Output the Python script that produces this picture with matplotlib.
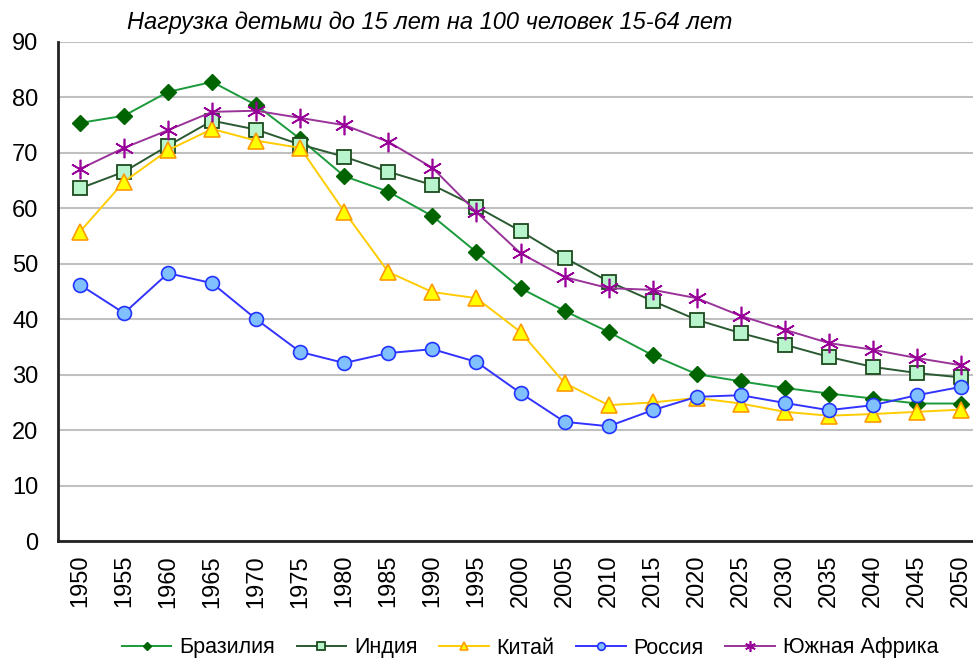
import numpy as np
import matplotlib.pyplot as plt

plt.rcParams['font.family'] = ['Liberation Sans', 'DejaVu Sans']

# --- данные ---
years = [str(y) for y in range(1950, 2051, 5)]

brazil = [75.4, 76.7, 81.0, 82.8, 78.6, 72.5, 65.8, 63.0, 58.6, 52.1, 45.6,
          41.5, 37.7, 33.5, 30.1, 28.8, 27.6, 26.6, 25.7, 24.8, 24.8]
india = [63.6, 66.6, 71.3, 75.8, 74.2, 71.5, 69.3, 66.6, 64.2, 60.3, 55.9,
         51.1, 46.8, 43.3, 39.9, 37.5, 35.4, 33.2, 31.4, 30.3, 29.5]
china = [55.8, 64.8, 70.5, 74.3, 72.2, 70.9, 59.4, 48.5, 44.9, 43.8, 37.7,
         28.5, 24.5, 25.0, 25.8, 24.8, 23.3, 22.6, 22.9, 23.3, 23.7]
russia = [46.2, 41.1, 48.3, 46.5, 40.0, 34.1, 32.1, 33.9, 34.6, 32.3, 26.7,
          21.5, 20.7, 23.6, 26.0, 26.3, 24.9, 23.6, 24.5, 26.3, 27.8]
s_africa = [67.1, 70.9, 74.1, 77.4, 77.6, 76.3, 75.0, 72.0, 67.3, 59.3, 51.9,
            47.6, 45.6, 45.3, 43.8, 40.6, 38.1, 35.7, 34.5, 33.0, 31.7]

labels = ['Бразилия', 'Индия', 'Китай', 'Россия', 'Южная Африка']

fig = plt.figure(figsize=(9.73, 6.61), dpi=100)
ax = fig.add_axes([0.0596, 0.1815, 0.9507, 0.755])

x = np.arange(len(years))

ax.plot(x, brazil, color='#1a9a3a', lw=1.4, marker='D', ms=8,
        mfc='#006400', mec='#006400', label=labels[0], zorder=3)
ax.plot(x, india, color='#2a5a32', lw=1.4, marker='s', ms=10,
        mfc='#b8f5cc', mec='#1e4a1e', mew=1.3, label=labels[1], zorder=3)
ax.plot(x, china, color='#ffcc00', lw=1.4, marker='^', ms=11,
        mfc='#ffff00', mec='#ff9900', mew=1.2, label=labels[2], zorder=3)
ax.plot(x, russia, color='#3333ff', lw=1.4, marker='o', ms=10,
        mfc='#80c0ff', mec='#2233ff', mew=1.2, label=labels[3], zorder=3)
ax.plot(x, s_africa, color='#993399', lw=1.4, marker=(6, 2, 0), ms=14,
        mec='#990099', mew=1.2, label=labels[4], zorder=3)

ax.set_xlim(-0.5, len(years) - 0.5)
ax.set_ylim(0, 90)
ax.set_yticks(range(0, 91, 10))
ax.set_xticks(x)
ax.set_xticklabels(years, rotation=90)
ax.tick_params(axis='both', length=0, labelsize=17)
ax.tick_params(axis='y', pad=14)
ax.tick_params(axis='x', pad=10)

ax.grid(axis='y', color='#c0c0c0', lw=1.5)
ax.set_axisbelow(True)
for s in ['top', 'right']:
    ax.spines[s].set_visible(False)
ax.spines['left'].set_linewidth(2)
ax.spines['bottom'].set_linewidth(2)
ax.spines['left'].set_color('#222222')
ax.spines['bottom'].set_color('#222222')

fig.text(430 / 973, 1 - 22 / 661, 'Нагрузка детьми до 15 лет на 100 человек 15-64 лет',
         ha='center', va='center', fontsize=17, style='italic')

leg = fig.legend(loc='center', bbox_to_anchor=(530 / 973, 1 - 648 / 661), ncol=5,
                 frameon=False, fontsize=15.5, markerscale=0.55, handlelength=2.3,
                 columnspacing=1.0, handletextpad=0.37, borderpad=0.2)

fig.savefig('out.png', dpi=100)
